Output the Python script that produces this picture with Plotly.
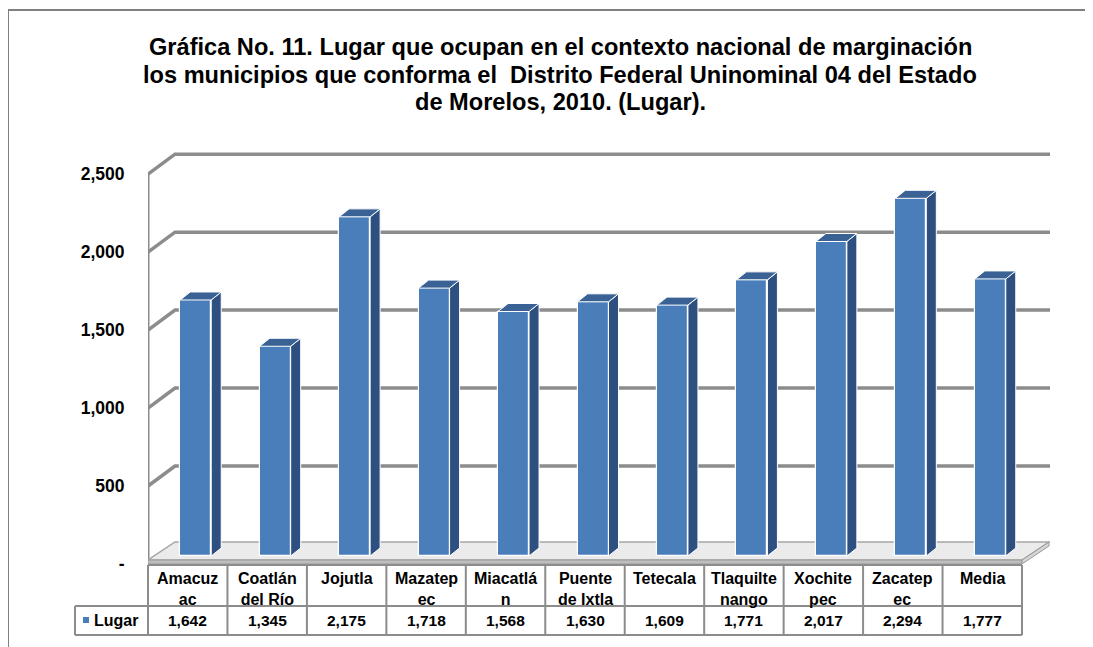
import plotly.graph_objects as go

# ---------------- data ----------------
categories = ["Amacuz<br>ac", "Coatlán<br>del Río", "Jojutla", "Mazatep<br>ec", "Miacatlá<br>n",
              "Puente<br>de Ixtla", "Tetecala", "Tlaquilte<br>nango", "Xochite<br>pec", "Zacatep<br>ec", "Media"]
lugar = [1642, 1345, 2175, 1718, 1568, 1630, 1609, 1771, 2017, 2294, 1777]
value_labels = ["1,642", "1,345", "2,175", "1,718", "1,568", "1,630", "1,609", "1,771", "2,017", "2,294", "1,777"]
series_name = "Lugar"
y_tickvals = [0, 500, 1000, 1500, 2000, 2500]
y_ticktext = ["-", "500", "1,000", "1,500", "2,000", "2,500"]
title_lines = ["Gráfica No. 11. Lugar que ocupan en el contexto nacional de marginación",
               "los municipios que conforma el  Distrito Federal Uninominal 04 del Estado",
               "de Morelos, 2010. (Lugar)."]

# ---------------- geometry (pixels, in page/screenshot coordinates) ----------------
OFF = 8                      # default page body margin
W, H = 1093 - OFF, 647 - OFF
L, R, T, B = 148, 1050, 143, 564
n = len(categories)
col_px = (1022 - L) / n
x_lo = -0.5
x_hi = x_lo + (R - L) / col_px
y_lo, y_hi = 0, 2700
px_x = (R - L) / (x_hi - x_lo)
px_y = (B - T) / (y_hi - y_lo)

def dxu(p):
    return p / px_x

def dyu(p):
    return p / px_y

def paper_y(ypx):
    return (B - ypx) / (B - T)

def paper_x(xpx):
    return (xpx - L) / (R - L)

def xpx_of(xd):
    return L + (xd - x_lo) * px_x

FONT = "Liberation Sans, Arial, sans-serif"
GRID = "#8C8C8C"
FRONT = "#4A7EBB"
SIDE = "#2D5080"
TOP = "#3A6294"

shapes = []
annotations = []

# outer border
shapes.append(dict(type="rect", xref="paper", yref="paper",
                   x0=paper_x(8), x1=paper_x(1110), y0=paper_y(10), y1=paper_y(670),
                   line=dict(color="#808080", width=2), fillcolor="rgba(0,0,0,0)", layer="below"))

# walls: gridlines on back wall with diagonal on left wall
wdx, wdy = dxu(27), dyu(20)
for v in y_tickvals[1:]:
    shapes.append(dict(type="path", xref="x", yref="y",
                       path=f"M {x_lo},{v} L {x_lo + wdx},{v + wdy} L {x_hi},{v + wdy}",
                       line=dict(color=GRID, width=3.5), layer="below"))
shapes.append(dict(type="line", xref="x", yref="y", x0=x_lo, x1=x_lo, y0=0, y1=y_tickvals[-1],
                   line=dict(color=GRID, width=3), layer="below"))

# floor
fx1 = x_lo + n
f_front = dyu(4)
f_back = f_front + dyu(18)
shapes.append(dict(type="path", xref="x", yref="y",
                   path=f"M {x_lo},{f_front} L {fx1},{f_front} L {fx1 + wdx},{f_back} L {x_lo + wdx},{f_back} Z",
                   fillcolor="#EBEBEB", line=dict(color="#A6A6A6", width=1.5), layer="below"))
shapes.append(dict(type="path", xref="x", yref="y",
                   path=f"M {x_lo},0 L {fx1},0 L {fx1},{f_front} L {x_lo},{f_front} Z",
                   fillcolor="#BDBDBD", line=dict(color="#9A9A9A", width=1), layer="below"))
shapes.append(dict(type="path", xref="x", yref="y",
                   path=f"M {fx1},0 L {fx1 + wdx},{dyu(18)} L {fx1 + wdx},{f_back} L {fx1},{f_front} Z",
                   fillcolor="#D5D5D5", line=dict(color="#9A9A9A", width=1), layer="below"))

# bars (side and top faces)
bar_shift = dxu(8)
bar_w = dxu(31)
base = dyu(8)
bdx, bdy = dxu(10), dyu(8)
xs = [i + bar_shift for i in range(n)]

for xc, v in zip(xs, lugar):
    xl, xr = xc - bar_w / 2, xc + bar_w / 2
    top = base + v
    shapes.append(dict(type="path", xref="x", yref="y",
                       path=f"M {xr},{base} L {xr + bdx},{base + bdy} L {xr + bdx},{top + bdy} L {xr},{top} Z",
                       fillcolor=SIDE, line=dict(color="white", width=1), layer="above"))
    shapes.append(dict(type="path", xref="x", yref="y",
                       path=f"M {xl},{top} L {xl + bdx},{top + bdy} L {xr + bdx},{top + bdy} L {xr},{top} Z",
                       fillcolor=TOP, line=dict(color="white", width=1), layer="above"))

# data table (paper coordinates)
TBL = "#8C8C8C"
r0, r1, r2 = 565, 606, 635
tbl_l = xpx_of(x_lo)
tbl_r = xpx_of(x_lo + n)
left_cell = 75
for ypx, x0 in [(r0, tbl_l), (r1, left_cell), (r2, left_cell)]:
    shapes.append(dict(type="line", xref="paper", yref="paper", x0=paper_x(x0), x1=paper_x(tbl_r),
                       y0=paper_y(ypx), y1=paper_y(ypx), line=dict(color=TBL, width=2)))
for i in range(n + 1):
    xp = paper_x(xpx_of(x_lo + i))
    shapes.append(dict(type="line", xref="paper", yref="paper", x0=xp, x1=xp,
                       y0=paper_y(r0), y1=paper_y(r2), line=dict(color=TBL, width=2)))
shapes.append(dict(type="line", xref="paper", yref="paper", x0=paper_x(left_cell), x1=paper_x(left_cell),
                   y0=paper_y(r1), y1=paper_y(r2), line=dict(color=TBL, width=2)))

for i, (c, t) in enumerate(zip(categories, value_labels)):
    xp = paper_x(xpx_of(i))
    annotations.append(dict(xref="paper", yref="paper", x=xp, y=paper_y(r0 + 3), text=c,
                            showarrow=False, yanchor="top", xanchor="center",
                            font=dict(family=FONT, size=16, color="black", weight="bold")))
    annotations.append(dict(xref="paper", yref="paper", x=xp, y=paper_y((r1 + r2) / 2), text=t,
                            showarrow=False, yanchor="middle", xanchor="center",
                            font=dict(family=FONT, size=15.5, color="black", weight="bold")))
# legend key in table
shapes.append(dict(type="rect", xref="paper", yref="paper",
                   x0=paper_x(83), x1=paper_x(89),
                   y0=paper_y(623), y1=paper_y(617), fillcolor=FRONT, line=dict(width=0)))
annotations.append(dict(xref="paper", yref="paper", x=paper_x(92), y=paper_y((r1 + r2) / 2),
                        text=series_name, showarrow=False, xanchor="left", yanchor="middle",
                        font=dict(family=FONT, size=16, color="black", weight="bold")))

# title, one annotation per line
for line, ypx in zip(title_lines, [47, 75, 102]):
    annotations.append(dict(xref="paper", yref="paper", x=paper_x(560), y=paper_y(ypx),
                            text=line, showarrow=False, xanchor="center", yanchor="middle",
                            font=dict(family=FONT, size=23.6, color="black", weight="bold")))

fig = go.Figure()
fig.add_trace(go.Bar(x=xs, y=lugar, base=base, width=bar_w, name=series_name,
                     marker=dict(color=FRONT, line=dict(color="white", width=1.2)),
                     showlegend=False, hoverinfo="skip"))

fig.update_layout(
    width=W, height=H,
    margin=dict(l=L - OFF, r=W - (R - OFF), t=T - OFF, b=H - (B - OFF), pad=0),
    paper_bgcolor="white", plot_bgcolor="rgba(0,0,0,0)",
    shapes=shapes, annotations=annotations,
    xaxis=dict(range=[x_lo, x_hi], showgrid=False, zeroline=False, showticklabels=False,
               showline=False, fixedrange=True),
    yaxis=dict(range=[y_lo, y_hi], showgrid=False, zeroline=False, showline=False,
               tickvals=y_tickvals, ticktext=y_ticktext, ticks="outside", ticklen=19,
               tickcolor="rgba(0,0,0,0)",
               tickfont=dict(family=FONT, size=17.5, color="black", weight="bold"),
               fixedrange=True),
    bargap=0,
)
fig.write_html("out.html")
